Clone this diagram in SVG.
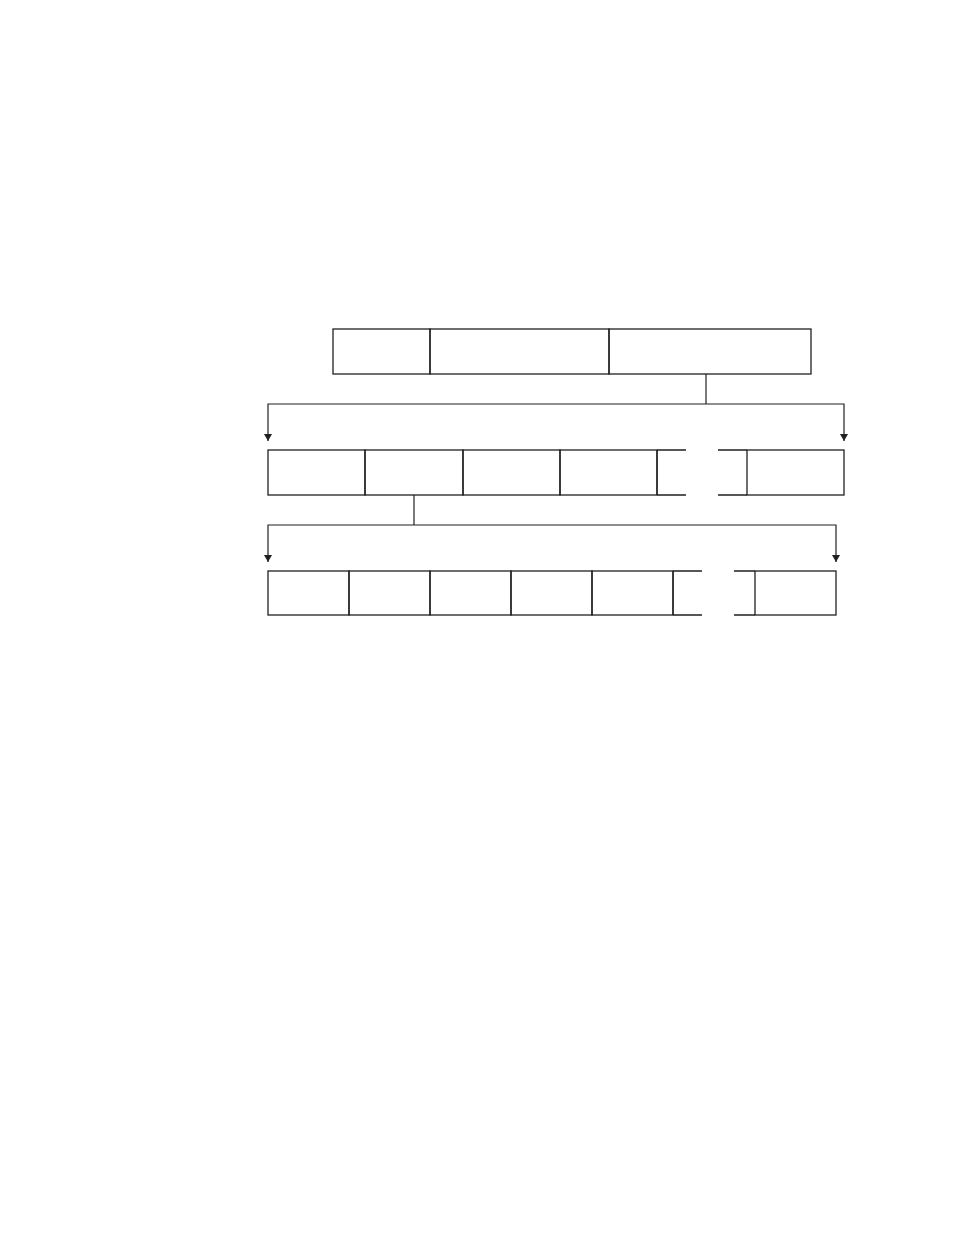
<svg xmlns="http://www.w3.org/2000/svg" width="954" height="1235" viewBox="0 0 954 1235">
<style>
.b{fill:none;stroke:#231f20;stroke-width:1.3}
.c{fill:none;stroke:#231f20;stroke-width:1.2}
</style>
<defs>
<marker id="ah" markerWidth="8" markerHeight="8" refX="7" refY="4" orient="auto" markerUnits="userSpaceOnUse" viewBox="0 0 8 8">
<path d="M0,0 L7,4 L0,8 Z" fill="#231f20"/>
</marker>
</defs>
<rect width="954" height="1235" fill="#fff"/>
<g id="row1">
<g id="r1c1"><rect class="b" x="333" y="329" width="97" height="45"/></g>
<g id="r1c2"><rect class="b" x="430" y="329" width="179" height="45"/></g>
<g id="r1c3"><rect class="b" x="609" y="329" width="202" height="45"/></g>
</g>
<g id="row2">
<g id="r2c1"><rect class="b" x="268" y="450" width="97" height="45"/></g>
<g id="r2c2"><rect class="b" x="365" y="450" width="98" height="45"/></g>
<g id="r2c3"><rect class="b" x="463" y="450" width="97" height="45"/></g>
<g id="r2c4"><rect class="b" x="560" y="450" width="97" height="45"/></g>
<g id="r2c5"><path class="b" d="M657,450 H686 M718,450 H747 M657,495 H686 M718,495 H747 M657,450 V495"/></g>
<g id="r2c6"><rect class="b" x="747" y="450" width="97" height="45"/></g>
</g>
<g id="row3">
<g id="r3c1"><rect class="b" x="268" y="571" width="81" height="44"/></g>
<g id="r3c2"><rect class="b" x="349" y="571" width="81" height="44"/></g>
<g id="r3c3"><rect class="b" x="430" y="571" width="81" height="44"/></g>
<g id="r3c4"><rect class="b" x="511" y="571" width="81" height="44"/></g>
<g id="r3c5"><rect class="b" x="592" y="571" width="81" height="44"/></g>
<g id="r3c6"><path class="b" d="M673,571 H702 M734,571 H755 M673,615 H702 M734,615 H755 M673,571 V615"/></g>
<g id="r3c7"><rect class="b" x="755" y="571" width="81" height="44"/></g>
</g>
<g id="connectors">
<path class="c" d="M706,374 V404"/>
<path class="c" d="M706,404 H268 V441" marker-end="url(#ah)"/>
<path class="c" d="M706,404 H844 V441" marker-end="url(#ah)"/>
<path class="c" d="M414,495 V525"/>
<path class="c" d="M414,525 H268 V562" marker-end="url(#ah)"/>
<path class="c" d="M414,525 H836 V562" marker-end="url(#ah)"/>
</g>
</svg>
